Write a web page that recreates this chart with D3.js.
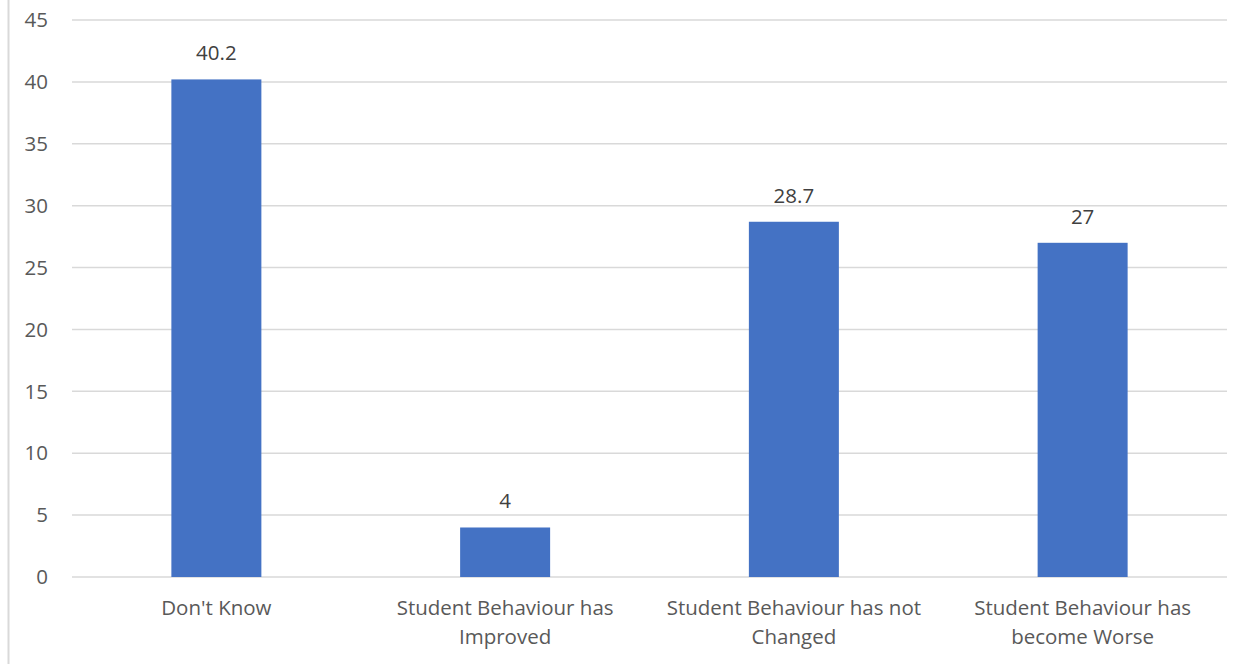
<!DOCTYPE html>
<html><head><meta charset="utf-8">
<script src="https://cdn.jsdelivr.net/npm/d3@7"></script>
<style>body{margin:0;background:#fff}svg{display:block}text{font-family:"Open Sans",sans-serif}</style>
</head><body>
<svg id="c" width="1255" height="664"></svg>
<script>
const categories = [["Don't Know"], ["Student Behaviour has", "Improved"], ["Student Behaviour has not", "Changed"], ["Student Behaviour has", "become Worse"]];
const values = [40.2, 4, 28.7, 27];
const labels = ["40.2", "4", "28.7", "27"];
const yTicks = [0, 5, 10, 15, 20, 25, 30, 35, 40, 45];

(function () {
const svg = d3.select("#c");
const pLeft = 72, pRight = 1227, pTop = 20, pBottom = 577;
const fs = "20.5px";
svg.append("line").attr("x1", 8.5).attr("x2", 8.5).attr("y1", 0).attr("y2", 664).attr("stroke", "#d9d9d9").attr("stroke-width", 2);

const x = d3.scaleBand().domain(d3.range(values.length)).range([pLeft, pRight]).padding(0);
const y = d3.scaleLinear().domain([0, 45]).range([pBottom, pTop]);

const grid = svg.append("g");
yTicks.forEach(t => {
  grid.append("line").attr("x1", pLeft).attr("x2", pRight).attr("y1", y(t)).attr("y2", y(t)).attr("stroke", "#d9d9d9").attr("stroke-width", 1.5);
  svg.append("text").attr("x", 48).attr("y", y(t)).attr("dy", "0.35em").attr("text-anchor", "end").attr("fill", "#595959").style("font-size", fs).text(t);
});

const bw = 90;
values.forEach((v, i) => {
  const cx = x(i) + x.bandwidth() / 2;
  svg.append("rect").attr("x", cx - bw / 2).attr("width", bw).attr("y", y(v)).attr("height", y(0) - y(v)).attr("fill", "#4472c4");
  svg.append("text").attr("x", cx).attr("y", y(v) - 19).attr("text-anchor", "middle").attr("fill", "#404040").style("font-size", fs).text(labels[i]);
  categories[i].forEach((line, j) => {
    svg.append("text").attr("x", cx).attr("y", 615 + j * 29).attr("text-anchor", "middle").attr("fill", "#595959").style("font-size", fs).text(line);
  });
});
})();
</script>
</body></html>
